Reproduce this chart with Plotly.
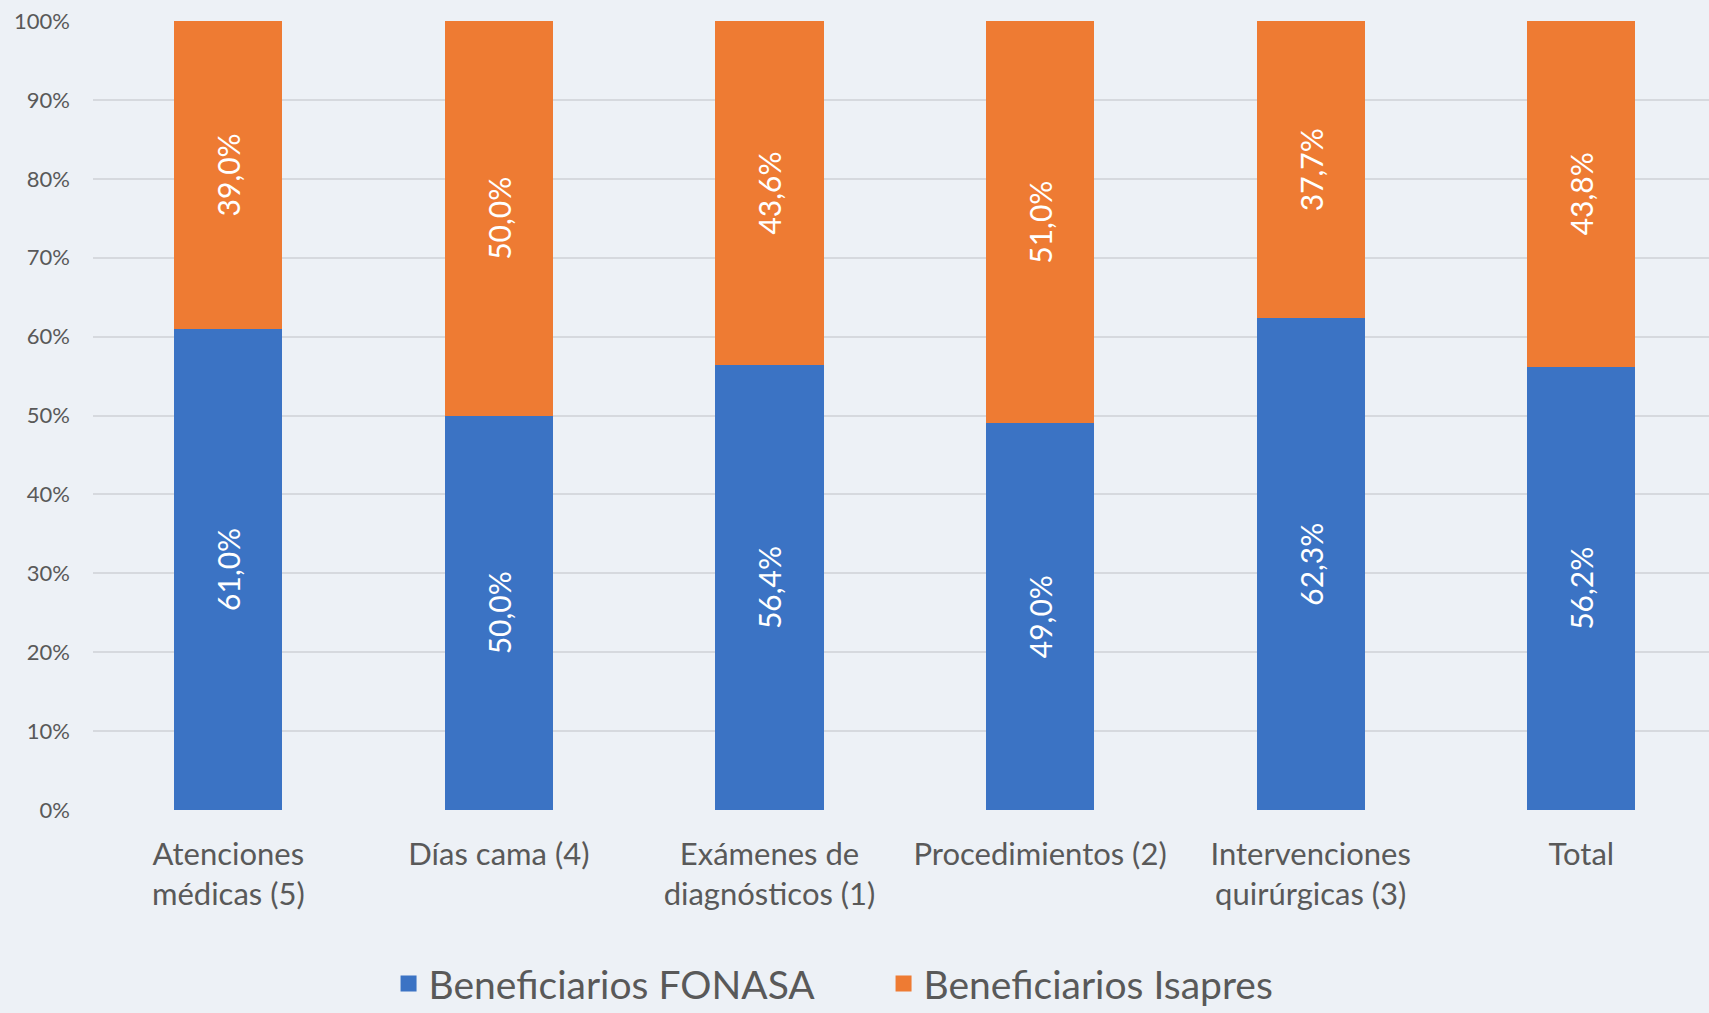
import plotly.graph_objects as go

categories = ["Atenciones<br>médicas (5)", "Días cama (4)", "Exámenes de<br>diagnósticos (1)",
              "Procedimientos (2)", "Intervenciones<br>quirúrgicas (3)", "Total"]
fonasa = [61.0, 50.0, 56.4, 49.0, 62.3, 56.2]
isapres = [39.0, 50.0, 43.6, 51.0, 37.7, 43.8]
y_ticks = [0, 10, 20, 30, 40, 50, 60, 70, 80, 90, 100]
series_names = ["Beneficiarios FONASA", "Beneficiarios Isapres"]
series_colors = ["#3B73C4", "#EE7B33"]

FONT = "Lato, 'Open Sans', sans-serif"

def fmt(v):
    return f"{v:.1f}%".replace(".", ",")

fig = go.Figure()
for name, vals, col in zip(series_names, [fonasa, isapres], series_colors):
    fig.add_trace(go.Bar(
        x=categories, y=vals, name=name, showlegend=False,
        marker=dict(color=col, line=dict(width=0)),
        text=[fmt(v) for v in vals], textposition="inside", insidetextanchor="middle",
        textangle=-90, textfont=dict(color="white", size=30, family=FONT), width=0.4,
    ))
# legend entries with larger square symbols
for name, col in zip(series_names, series_colors):
    fig.add_trace(go.Scatter(
        x=[None], y=[None], mode="markers", name=name,
        marker=dict(symbol="square", size=20, color=col),
    ))

fig.update_layout(
    barmode="stack",
    width=1709, height=1013,
    margin=dict(l=93, r=0, t=21, b=203),
    paper_bgcolor="#EDF1F6",
    plot_bgcolor="rgba(0,0,0,0)",
    font=dict(family=FONT, color="#595959"),
    uniformtext=dict(mode="show", minsize=10),
    showlegend=True,
    legend=dict(orientation="h", xref="container", yref="container", traceorder="normal",
                x=0.517, y=0.029, xanchor="center", yanchor="middle",
                font=dict(size=39, color="#595959", family=FONT),
                bgcolor="rgba(0,0,0,0)", itemsizing="trace",
                entrywidth=450, entrywidthmode="pixels"),
    xaxis=dict(range=[-0.5, 5.472], showgrid=False, zeroline=False, showline=False,
               tickfont=dict(size=31, color="#595959", family=FONT), ticks="",
               ticklabelstandoff=23),
    yaxis=dict(range=[0, 100], tickvals=y_ticks, ticktext=[f"{v}%" for v in y_ticks],
               showgrid=True, gridcolor="#D6D9DE", gridwidth=2, zeroline=False,
               showline=False, tickfont=dict(size=22, color="#595959", family=FONT),
               ticks="", ticklabelstandoff=22),
)

fig.write_html("out.html", config={"displayModeBar": False},
               post_script="document.body.style.margin='0';document.body.style.overflow='hidden';")
